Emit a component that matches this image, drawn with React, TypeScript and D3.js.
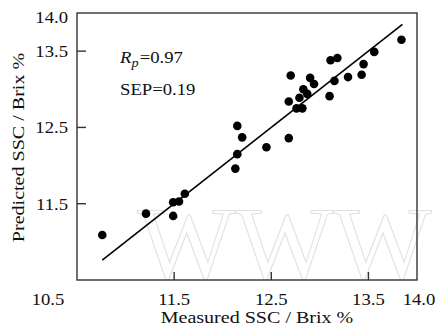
// Measured vs predicted SSC scatter with 1:1 fit line
import * as d3 from "d3"

const measured = [
  10.76, 11.21, 11.49, 11.55, 11.49, 11.61, 12.15, 12.2, 12.15, 12.13,
  12.45, 12.68, 12.68, 12.7, 12.76, 12.82, 12.79, 12.83, 12.87, 12.9,
  12.94, 13.1, 13.15, 13.11, 13.18, 13.29, 13.43, 13.45, 13.56, 13.84,
]
const predicted = [
  11.09, 11.37, 11.52, 11.53, 11.34, 11.63, 12.52, 12.37, 12.15, 11.96,
  12.24, 12.36, 12.84, 13.18, 12.75, 12.75, 12.89, 13.0, 12.94, 13.15,
  13.07, 12.91, 13.11, 13.38, 13.41, 13.16, 13.19, 13.33, 13.49, 13.65,
]
const fitX = [10.76, 13.85]
const fitY = [10.76, 13.85]

const xTicks = [11.5, 12.5, 13.5]
const yTicks = [11.5, 12.5, 13.5]
const xTickLabels = ["10.5", "11.5", "12.5", "13.5", "14.0"]
const yTickLabels = ["11.5", "12.5", "13.5", "14.0"]
const xTitle = "Measured SSC / Brix %"
const yTitle = "Predicted SSC / Brix %"
const stats = { rp: "0.97", sep: "0.19" }

const W = 439
const H = 335
const margin = { top: 13, right: 22, bottom: 55, left: 77 }
const FONT = "Liberation Serif, Times New Roman, serif"

export default function App() {
  const x = d3.scaleLinear().domain([10.5, 14]).range([margin.left, W - margin.right])
  const y = d3.scaleLinear().domain([10.5, 14]).range([H - margin.bottom, margin.top])
  const x0 = margin.left, x1 = W - margin.right
  const y0 = H - margin.bottom, y1 = margin.top

  const line = d3.line<number>()
    .x((_, i) => x(fitX[i]))
    .y((_, i) => y(fitY[i]))

  const ts = { fontFamily: FONT }

  return (
    <div style={{ position: "fixed", left: 0, top: 0, background: "#fff" }}>
      <svg width={W} height={H} style={{ display: "block", fontFamily: FONT }}>
        <rect width={W} height={H} fill="#fff" />

        {/* watermark */}
        <text x={x(11.12)} y={y(10.53)} fontSize={104} fill="none" stroke="#e0e0e0"
          strokeWidth={1} style={ts}>WWW</text>

        {/* fit line */}
        <path d={line(fitX) ?? ""} fill="none" stroke="#000" strokeWidth={1.6} />

        {/* points */}
        {measured.map((m, i) => (
          <circle key={i} cx={x(m)} cy={y(predicted[i])} r={4.3} fill="#000" />
        ))}

        {/* frame */}
        <rect x={x0} y={y1} width={x1 - x0} height={y0 - y1} fill="none" stroke="#333" strokeWidth={1.4} />

        {/* inward ticks */}
        {xTicks.map(t => (
          <line key={"xt" + t} x1={x(t)} x2={x(t)} y1={y0} y2={y0 - 8} stroke="#333" strokeWidth={1.4} />
        ))}
        {yTicks.map(t => (
          <line key={"yt" + t} x1={x0} x2={x0 + 9} y1={y(t)} y2={y(t)} stroke="#333" strokeWidth={1.4} />
        ))}

        {/* x tick labels */}
        {xTickLabels.map((l, i) => {
          const px = x(+l) + (i === 0 ? -29 : i === xTickLabels.length - 1 ? 2 : 0)
          return (
            <text key={"xl" + l} transform={`translate(${px},${y0 + 25}) scale(1.1,1)`}
              fontSize={17} textAnchor="middle" fill="#111" style={ts}>{l}</text>
          )
        })}

        {/* y tick labels */}
        {yTickLabels.map((l, i) => {
          const py = y(+l) + (i === yTickLabels.length - 1 ? 10 : 6)
          return (
            <text key={"yl" + l} transform={`translate(${x0 - 9},${py}) scale(1.1,1)`}
              fontSize={17} textAnchor="end" fill="#111" style={ts}>{l}</text>
          )
        })}

        {/* axis titles */}
        <text transform={`translate(${(x0 + x1) / 2 + 10},${H - 12}) scale(1.18,1)`}
          fontSize={17} textAnchor="middle" fill="#111" style={ts}>{xTitle}</text>
        <text transform={`translate(24,${(y0 + y1) / 2 + 1}) rotate(-90) scale(1.18,1)`}
          fontSize={17} textAnchor="middle" fill="#111" style={ts}>{yTitle}</text>

        {/* stats */}
        <text transform={`translate(${x0 + 43},${y1 + 50}) scale(1.1,1)`} fontSize={17} fill="#111" style={ts}>
          <tspan fontStyle="italic">R</tspan>
          <tspan fontStyle="italic" fontSize={13} dy={4}>p</tspan>
          <tspan dy={-4} dx={1}>={stats.rp}</tspan>
        </text>
        <text transform={`translate(${x0 + 43},${y1 + 82}) scale(1.1,1)`} fontSize={17} fill="#111" style={ts}>
          SEP={stats.sep}
        </text>
      </svg>
    </div>
  )
}
